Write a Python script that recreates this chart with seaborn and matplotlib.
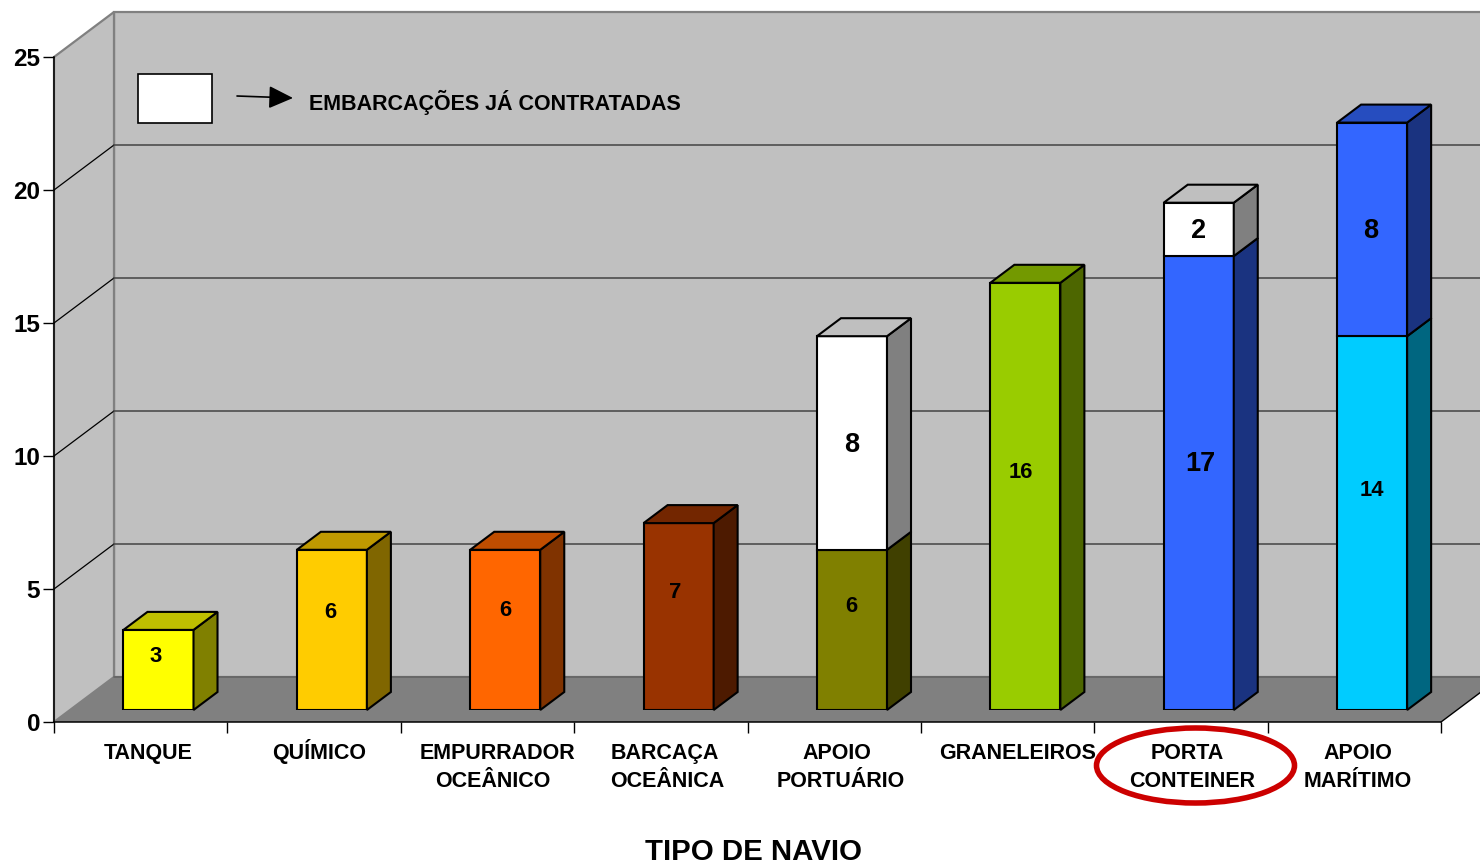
import numpy as np
import pandas as pd
import seaborn as sns
import matplotlib
matplotlib.use('Agg')
from matplotlib import pyplot as plt
from matplotlib.colors import to_rgb
from matplotlib.patches import Polygon, Rectangle, Ellipse

categories = ['TANQUE', 'QUÍMICO', 'EMPURRADOR OCEÂNICO', 'BARCAÇA OCEÂNICA',
              'APOIO PORTUÁRIO', 'GRANELEIROS', 'PORTA CONTEINER', 'APOIO MARÍTIMO']
lower_values = [3, 6, 6, 7, 6, 16, 17, 14]
upper_categories = ['APOIO PORTUÁRIO', 'PORTA CONTEINER', 'APOIO MARÍTIMO']
upper_values = [8, 2, 8]
lower_colors = ['#FFFF00', '#FFCC00', '#FF6600', '#993300', '#808000', '#99CC00', '#3366FF', '#00CCFF']
upper_colors = ['#FFFFFF', '#FFFFFF', '#3366FF']
y_ticks = [0, 5, 10, 15, 20, 25]

W, H = 1480, 864
# reference pixels of the front axis
X0, X1, Y0, Y25 = 54, 1441, 722, 57
WALL_DX, WALL_DY = 60, -45
BAR_SHIFT_DX = 17.8
BAR_Y0, BAR_Y25 = 710, 42.5
BAR_DX, BAR_DY = 24, -18


def axes_rect(left, right, bottom, top):
    return [left / W, 1 - bottom / H, (right - left) / W, (bottom - top) / H]


sns.set_theme(style='white')
plt.rcParams['font.family'] = ['Liberation Sans', 'DejaVu Sans']
plt.rcParams['font.weight'] = 'bold'

fig = plt.figure(figsize=(W / 100, H / 100), dpi=100)

bg = fig.add_axes([0, 0, 1, 1], zorder=0)
ax = fig.add_axes(axes_rect(X0, X1, Y0, Y25), zorder=1)
bar_ax = fig.add_axes(axes_rect(X0 + BAR_SHIFT_DX, X1 + BAR_SHIFT_DX, BAR_Y0, BAR_Y25), zorder=2)
fg = fig.add_axes([0, 0, 1, 1], zorder=3)
for a in [bg, fg]:
    a.set_xlim(0, W)
    a.set_ylim(H, 0)
    a.axis('off')
    a.patch.set_alpha(0)


def to_px(source, x, y):
    return fg.transData.inverted().transform(source.transData.transform((x, y)))


# frame axes
ax.set_xlim(-0.5, 7.5)
ax.set_ylim(0, 25)
ax.patch.set_alpha(0)
ax.set_xticks(np.arange(-0.5, 8))
ax.set_xticklabels([])
ax.set_yticks(y_ticks)
ax.set_yticklabels(y_ticks, fontsize=17.5, fontweight='bold', color='black')
ax.tick_params(axis='both', length=8, width=1, color='black', left=True, bottom=True, pad=2)
for s in ['top', 'right']:
    ax.spines[s].set_visible(False)
for s in ['left', 'bottom']:
    ax.spines[s].set_color('black')
    ax.spines[s].set_linewidth(1.1)

# walls and floor
fl = to_px(ax, -0.5, 0)
fr = to_px(ax, 7.5, 0)
tl = to_px(ax, -0.5, 25)
tr = to_px(ax, 7.5, 25)
d = np.array([WALL_DX, WALL_DY])
bg.add_patch(Polygon([tl + d, tr + d, fr + d, fl + d], fc='#C0C0C0', ec='#808080', lw=1.6))
bg.add_patch(Polygon([fl, fl + d, tl + d, tl], fc='#C0C0C0', ec='#808080', lw=1.6))
bg.add_patch(Polygon([fl, fr, fr + d, fl + d], fc='#808080', ec='none'))
bg.plot([fl[0] + d[0], W + 30], [fl[1] + d[1], fl[1] + d[1]], color='#666666', lw=1.3)
bg.plot([fr[0], fr[0] + d[0]], [fr[1], fr[1] + d[1]], color='black', lw=1)
for t in y_ticks[1:-1]:
    p0 = to_px(ax, -0.5, t)
    p1 = to_px(ax, 7.5, t)
    bg.plot([p0[0], p0[0] + d[0]], [p0[1], p0[1] + d[1]], color='black', lw=0.9)
    bg.plot([p0[0] + d[0], p1[0] + d[0]], [p0[1] + d[1], p1[1] + d[1]], color='#4d4d4d', lw=1.2)

# bars
lower_df = pd.DataFrame({'tipo': categories, 'qtd': lower_values})
upper_df = pd.DataFrame({'tipo': upper_categories, 'qtd': upper_values,
                         'base': [lower_values[categories.index(c)] for c in upper_categories]})
sns.barplot(data=lower_df, x='tipo', y='qtd', hue='tipo', order=categories, hue_order=categories,
            palette=lower_colors, width=0.404, edgecolor='black', linewidth=1.5, saturation=1,
            legend=False, ax=bar_ax)
for c, v, b, col in zip(upper_categories, upper_values, upper_df['base'], upper_colors):
    pos = categories.index(c)
    bar_ax.bar(pos, v, bottom=b, width=0.404, color=col, edgecolor='black', linewidth=1.5)
bar_ax.set_xlim(-0.5, 7.5)
bar_ax.set_ylim(0, 25)
bar_ax.axis('off')
bar_ax.patch.set_alpha(0)

# 3d sides, computed from the bars seaborn drew
bars = [b for b in bar_ax.patches if b.get_height() > 0]
bar_tops = {}
for b in bars:
    key = round(b.get_x(), 3)
    bar_tops[key] = max(bar_tops.get(key, 0), b.get_y() + b.get_height())
depth = np.array([BAR_DX, BAR_DY])
for b in bars:
    face = np.array(to_rgb(b.get_facecolor()[:3]))
    x, y0, w, h = b.get_x(), b.get_y(), b.get_width(), b.get_height()
    br = to_px(bar_ax, x + w, y0)
    trr = to_px(bar_ax, x + w, y0 + h)
    fg.add_patch(Polygon([br, trr, trr + depth, br + depth], fc=face * 0.5, ec='black', lw=1.5, zorder=2))
    if y0 + h == bar_tops[round(x, 3)]:
        tll = to_px(bar_ax, x, y0 + h)
        fg.add_patch(Polygon([tll, trr, trr + depth, tll + depth], fc=face * 0.75, ec='black', lw=1.5, zorder=2))

# value labels
value_labels = [3, 6, 6, 7, 6, 8, 16, 17, 2, 8, 14]
value_pos = [(155.5, 656), (330.5, 612), (505.5, 610), (675, 592), (851.5, 607), (851.5, 445),
             (1020.5, 472), (1200, 464), (1198.5, 231), (1371, 231), (1371.5, 490)]
value_size = [15.8, 15.8, 15.8, 15.8, 15.8, 19.5, 15.8, 19.5, 19.5, 19.5, 15.8]
for v, (x, y), s in zip(value_labels, value_pos, value_size):
    fg.text(x, y, str(v), ha='center', va='center', fontsize=s, fontweight='bold', color='black', zorder=5)

# category labels, line by line
cat_lines = [('TANQUE', 148, 759), ('QUÍMICO', 319, 759),
             ('EMPURRADOR', 497, 759), ('OCEÂNICO', 493, 787),
             ('BARCAÇA', 665, 759), ('OCEÂNICA', 667, 787),
             ('APOIO', 837, 759), ('PORTUÁRIO', 841, 787),
             ('GRANELEIROS', 1018, 759),
             ('PORTA', 1187, 759), ('CONTEINER', 1192, 787),
             ('APOIO', 1358, 759), ('MARÍTIMO', 1358, 787)]
for txt, x, y in cat_lines:
    fg.text(x, y, txt, ha='center', va='baseline', fontsize=15.5, fontweight='bold', color='black', zorder=5)

fg.text(753.5, 860, 'TIPO DE NAVIO', ha='center', va='baseline', fontsize=21.2, fontweight='bold', color='black')

# legend note
fg.add_patch(Rectangle((138, 74), 74, 49, fc='white', ec='black', lw=1.2, zorder=4))
fg.annotate('', xy=(293, 98), xytext=(237, 96),
            arrowprops=dict(arrowstyle='-|>,head_length=1.5,head_width=0.7', mutation_scale=10,
                            color='black', lw=1.2, shrinkA=0, shrinkB=0))
fg.text(309, 110, 'EMBARCAÇÕES JÁ CONTRATADAS', ha='left', va='baseline', fontsize=15.5,
        fontweight='bold', color='black')

# highlight
fg.add_patch(Ellipse((1195.5, 765.5), 198, 75, fc='none', ec='#CC0000', lw=4, zorder=6))

fig.savefig('out.png', dpi=100)
